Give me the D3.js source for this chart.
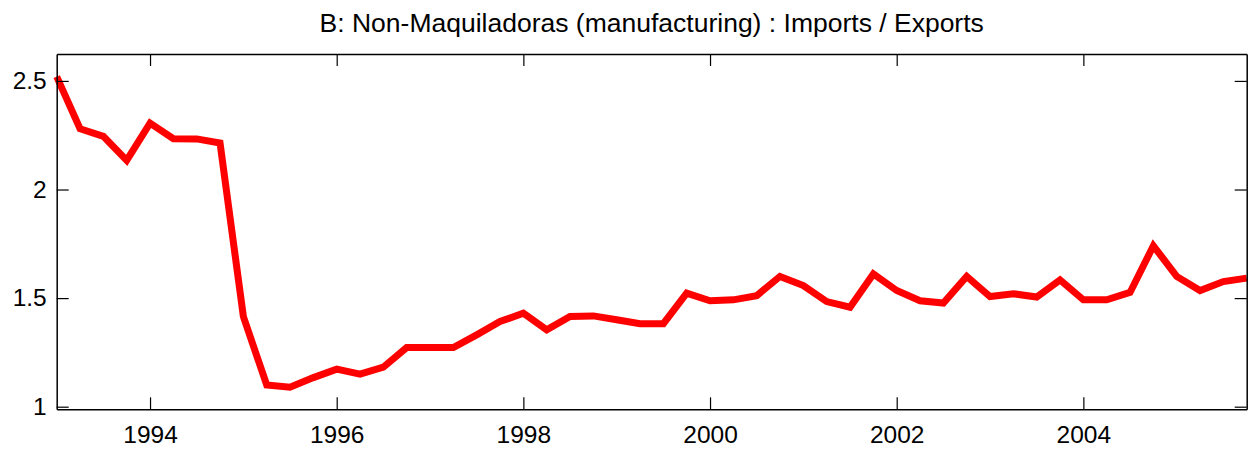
<!DOCTYPE html>
<html>
<head>
<meta charset="utf-8">
<script src="https://cdn.jsdelivr.net/npm/d3@7"></script>
<style>
  body { margin: 0; background: #fff; }
  text { font-family: "Liberation Sans", Arial, Helvetica, sans-serif; fill: #000; }
</style>
</head>
<body>
<div id="chart"></div>
<script>
"use strict";

// Quarterly series, 1993Q1 .. 2005Q4
var startYear = 1993;
var ratio = [
  2.52, 2.28, 2.245, 2.134, 2.306, 2.234, 2.233, 2.214,
  1.415, 1.100, 1.090, 1.134, 1.173, 1.150, 1.182, 1.272,
  1.272, 1.272, 1.331, 1.392, 1.431, 1.354, 1.415, 1.418,
  1.400, 1.382, 1.382, 1.523, 1.488, 1.492, 1.511, 1.600,
  1.558, 1.484, 1.458, 1.611, 1.535, 1.488, 1.477, 1.600,
  1.507, 1.520, 1.505, 1.584, 1.492, 1.492, 1.526, 1.741,
  1.600, 1.535, 1.576, 1.592
];
var xTicks = [1994, 1996, 1998, 2000, 2002, 2004];
var yTicks = [1, 1.5, 2, 2.5];
var titre = "B: Non-Maquiladoras (manufacturing) : Imports / Exports";

var larg = 1249, haut = 449;
var gauche = 56.7, droite = 1246.7, haut_axe = 54, bas_axe = 409.3;
var tickLen = 12;

var svg = d3.select("#chart")
  .append("svg")
  .attr("width", larg)
  .attr("height", haut);

var x = d3.scaleLinear().domain([1993, 2005.75]).range([gauche, droite]);
var y = d3.scaleLinear().domain([0.988, 2.624]).range([bas_axe, haut_axe]);

var points = ratio.map(function(v, i){ return { t: startYear + i * 0.25, v: v }; });

// Titre
svg.append("text")
  .attr("x", (gauche + droite) / 2)
  .attr("y", 32)
  .attr("text-anchor", "middle")
  .attr("font-size", "26.5px")
  .text(titre);

// Ligne rouge
var ligne = d3.line()
  .x(function(d){ return x(d.t); })
  .y(function(d){ return y(d.v); });

svg.append("path")
  .datum(points)
  .attr("d", ligne)
  .attr("fill", "none")
  .attr("stroke", "#ff0000")
  .attr("stroke-width", 7)
  .attr("stroke-linejoin", "miter")
  .attr("stroke-linecap", "butt");

// Axes (ticks vers l'intérieur, sur les quatre côtés)
var axeBas = d3.axisBottom(x).tickValues(xTicks).tickFormat(d3.format("d"))
  .tickSizeInner(-tickLen).tickSizeOuter(0).tickPadding(16);
var axeHaut = d3.axisTop(x).tickValues(xTicks).tickFormat("")
  .tickSizeInner(-tickLen).tickSizeOuter(0);
var axeGauche = d3.axisLeft(y).tickValues(yTicks).tickFormat(d3.format("~g"))
  .tickSizeInner(-tickLen).tickSizeOuter(0).tickPadding(10);
var axeDroite = d3.axisRight(y).tickValues(yTicks).tickFormat("")
  .tickSizeInner(-tickLen).tickSizeOuter(0);

function style(g){
  g.selectAll("path").attr("stroke", "#000").attr("stroke-width", 1.5);
  g.selectAll("line").attr("stroke", "#000").attr("stroke-width", 1.2);
  g.selectAll("text").attr("font-size", "24.5px")
    .attr("font-family", "'Liberation Sans', Arial, Helvetica, sans-serif")
    .attr("fill", "#000");
}

svg.append("g").attr("transform", "translate(0," + bas_axe + ")").call(axeBas).call(style);
svg.append("g").attr("transform", "translate(0," + haut_axe + ")").call(axeHaut).call(style);
svg.append("g").attr("transform", "translate(" + gauche + ",0)").call(axeGauche).call(style);
svg.append("g").attr("transform", "translate(" + droite + ",0)").call(axeDroite).call(style);
</script>
</body>
</html>
